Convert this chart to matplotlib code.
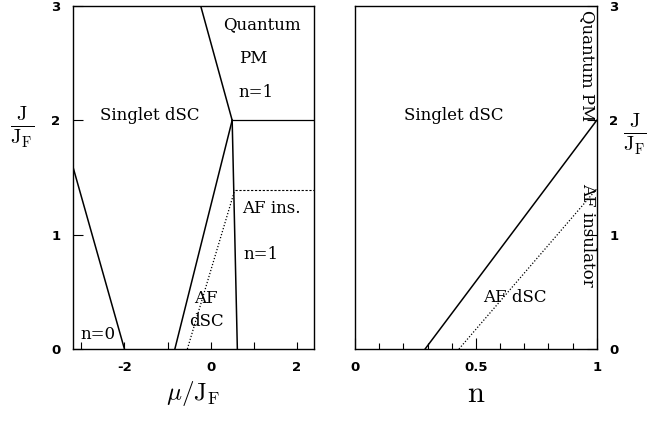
import matplotlib

matplotlib.use("Agg")
import matplotlib.pyplot as plt
from matplotlib.ticker import FixedLocator, FuncFormatter, MultipleLocator

plt.rcParams["mathtext.fontset"] = "cm"
plt.rcParams["axes.unicode_minus"] = False

# left panel: phase boundaries in the (mu/J_F, J/J_F) plane
mu_lim = (-3.2, 2.4)
n0_edge_mu = [-3.2, -2.0]
n0_edge_j = [1.6, 0.0]
sc_left_mu = [-0.83, 0.5]
sc_left_j = [0.0, 2.0]
pm_edge_mu = [0.5, -0.23]
pm_edge_j = [2.0, 3.0]
pm_flat_mu = [0.5, 2.4]
pm_flat_j = [2.0, 2.0]
ins_edge_mu = [0.5, 0.62]
ins_edge_j = [2.0, 0.0]
af_flat_mu = [0.56, 2.4]
af_flat_j = [1.39, 1.39]
af_edge_mu = [-0.54, 0.56]
af_edge_j = [0.0, 1.39]

# right panel: boundaries in the (n, J/J_F) plane
n_solid = [0.29, 1.0]
j_solid = [0.0, 2.0]
n_dotted = [0.43, 1.0]
j_dotted = [0.0, 1.4]

left_labels = [
    ("Quantum", 1.18, 2.84),
    ("PM", 1.0, 2.54),
    ("n=1", 1.06, 2.24),
    ("Singlet dSC", -1.41, 2.04),
    ("AF ins.", 1.42, 1.23),
    ("n=1", 1.16, 0.83),
    ("AF", -0.12, 0.44),
    ("dSC", -0.1, 0.24),
    ("n=0", -2.62, 0.13),
]

serif = "DejaVu Serif"
txt_size = 12
tick_font = {"family": "DejaVu Sans", "weight": "bold", "size": 9.5}
frac_label = r"$\frac{\mathrm{J}}{\mathrm{J}_\mathrm{F}}$"

fig = plt.figure(figsize=(6.47, 4.24), dpi=100)
ax1 = fig.add_axes([0.1124, 0.1769, 0.373, 0.809])
ax2 = fig.add_axes([0.5487, 0.1769, 0.3736, 0.809])

lw = 1.1
ax1.plot(n0_edge_mu, n0_edge_j, color="black", lw=lw)
ax1.plot(sc_left_mu, sc_left_j, color="black", lw=lw)
ax1.plot(pm_edge_mu, pm_edge_j, color="black", lw=lw)
ax1.plot(pm_flat_mu, pm_flat_j, color="black", lw=0.9)
ax1.plot(ins_edge_mu, ins_edge_j, color="black", lw=lw)
ax1.plot(af_flat_mu, af_flat_j, color="black", lw=0.8, ls=(0, (2, 1.5)))
ax1.plot(af_edge_mu, af_edge_j, color="black", lw=0.9, ls=(0, (1, 1.5)))

for label, x, y in left_labels:
    ax1.text(x, y, label, family=serif, size=txt_size, ha="center", va="center")

ax1.set_xlim(*mu_lim)
ax1.set_ylim(0, 3)
ax1.xaxis.set_major_locator(FixedLocator([-2, 0, 2]))
ax1.xaxis.set_minor_locator(FixedLocator([-3, -1, 1]))
ax1.xaxis.set_major_formatter(FuncFormatter(lambda v, p: f"{v:g}"))
ax1.yaxis.set_major_locator(MultipleLocator(1))
ax1.tick_params(axis="x", which="both", direction="in", length=5, width=0.8, pad=9)
ax1.tick_params(axis="y", direction="in", length=7, width=0.8, pad=9)
for lab in ax1.get_xticklabels() + ax1.get_yticklabels():
    lab.set_fontproperties(tick_font)
ax1.set_xlabel(r"$\mu/\mathrm{J}_\mathrm{F}$", fontsize=18, labelpad=3)
ax1.set_ylabel(frac_label, fontsize=21, rotation=0, va="center")
ax1.yaxis.set_label_coords(-0.21, 0.645)

ax2.plot(n_solid, j_solid, color="black", lw=lw)
ax2.plot(n_dotted, j_dotted, color="black", lw=0.9, ls=(0, (1, 1.5)))
ax2.text(0.41, 2.04, "Singlet dSC", family=serif, size=txt_size,
         ha="center", va="center")
ax2.text(0.66, 0.45, "AF dSC", family=serif, size=txt_size,
         ha="center", va="center")
ax2.text(0.962, 2.48, "Quantum PM", family=serif, size=txt_size,
         ha="center", va="center", rotation=-90)
ax2.text(0.962, 1.0, "AF insulator", family=serif, size=txt_size,
         ha="center", va="center", rotation=-90)

ax2.set_xlim(0, 1)
ax2.set_ylim(0, 3)
ax2.xaxis.set_major_locator(FixedLocator([0, 0.5, 1]))
ax2.xaxis.set_minor_locator(MultipleLocator(0.1))
ax2.xaxis.set_major_formatter(FuncFormatter(lambda v, p: f"{v:g}"))
ax2.yaxis.set_major_locator(MultipleLocator(1))
ax2.yaxis.tick_right()
ax2.yaxis.set_label_position("right")
ax2.tick_params(axis="x", which="major", direction="in", length=8, width=0.8, pad=9)
ax2.tick_params(axis="x", which="minor", direction="in", length=4, width=0.8)
ax2.tick_params(axis="y", direction="in", length=7, width=0.8, pad=9)
for lab in ax2.get_xticklabels() + ax2.get_yticklabels():
    lab.set_fontproperties(tick_font)
ax2.set_xlabel(r"$\mathrm{n}$", fontsize=22, labelpad=3)
ax2.set_ylabel(frac_label, fontsize=21, rotation=0, va="center")
ax2.yaxis.set_label_coords(1.16, 0.625)

for ax in (ax1, ax2):
    for spine in ax.spines.values():
        spine.set_linewidth(1.0)

fig.savefig("out.png", dpi=100)
